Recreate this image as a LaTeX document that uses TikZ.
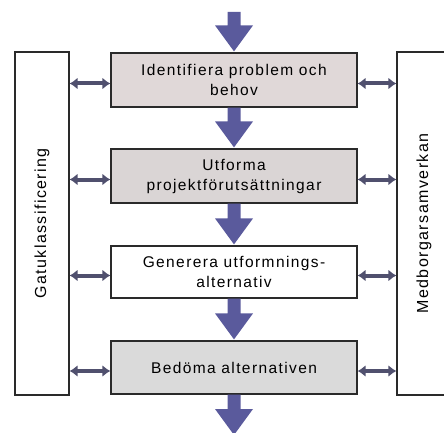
\documentclass[tikz,border=0pt]{standalone}
\usepackage{fontspec}
\setmainfont{Liberation Sans}[LetterSpace=9]
\usetikzlibrary{calc,arrows.meta}
\definecolor{boxA}{HTML}{E0D8D8}
\definecolor{boxB}{HTML}{DAD5D5}
\definecolor{boxD}{HTML}{DADADA}
\definecolor{blk}{HTML}{5A5A9C}
\definecolor{dbl}{HTML}{50506E}
\definecolor{edge}{HTML}{2A2A2A}
\newcommand{\blockarr}[2]{%
  \fill[blk] ($(#1)+(-6.5,0)$) -- ($(#2)+(-6.5,27)$) -- ($(#2)+(-19,27)$) -- ($(#2)+(0,1)$)
    -- ($(#2)+(19,27)$) -- ($(#2)+(6.5,27)$) -- ($(#1)+(6.5,0)$) -- cycle;}
\begin{document}
\begin{tikzpicture}[x=1pt,y=1pt,
  proc/.style={draw=edge,line width=1.2pt,minimum width=246pt,inner sep=0pt,align=center,
    font=\fontsize{15.5}{20}\selectfont,text=black},
  side/.style={draw=edge,line width=1.2pt,minimum width=54pt,minimum height=343pt,inner sep=0pt,
    font=\fontsize{16}{18}\selectfont,text=black},
  dblarr/.style={draw=dbl,line width=4pt,{Latex[length=8pt,width=12pt]}-{Latex[length=8pt,width=12pt]}}]
\useasboundingbox (0,0) rectangle (444,-433);
\node[proc,fill=boxA,minimum height=54pt] (b1) at (234,-80) {Identifiera problem och\\behov};
\node[proc,fill=boxB,minimum height=54pt] (b2) at (234,-176) {Utforma\\projektförutsättningar};
\node[proc,fill=white,minimum height=52pt] (b3) at (234,-272) {Generera utformnings-\\alternativ};
\node[proc,fill=boxD,minimum height=53pt] (b4) at (234,-367.5) {Bedöma alternativen};
\node[side] (gk) at (42,-223.5) {\rotatebox{90}{Gatuklassificering}};
\node[side] (mb) at (424,-223.5) {\rotatebox{90}{Medborgarsamverkan}};
\coordinate (top) at (234,-12);
\coordinate (bot) at (234,-436);
\blockarr{top}{b1.north}
\blockarr{b1.south}{b2.north}
\blockarr{b2.south}{b3.north}
\blockarr{b3.south}{b4.north}
\blockarr{b4.south}{bot}
\foreach \b in {b1,b2,b3,b4}{
  \draw[dblarr] ([yshift=-3.5pt]gk.east |- \b.west) -- ([yshift=-3.5pt]\b.west);
  \draw[dblarr] ([yshift=-3.5pt]\b.east) -- ([yshift=-3.5pt]mb.west |- \b.east);
}
\end{tikzpicture}
\end{document}
